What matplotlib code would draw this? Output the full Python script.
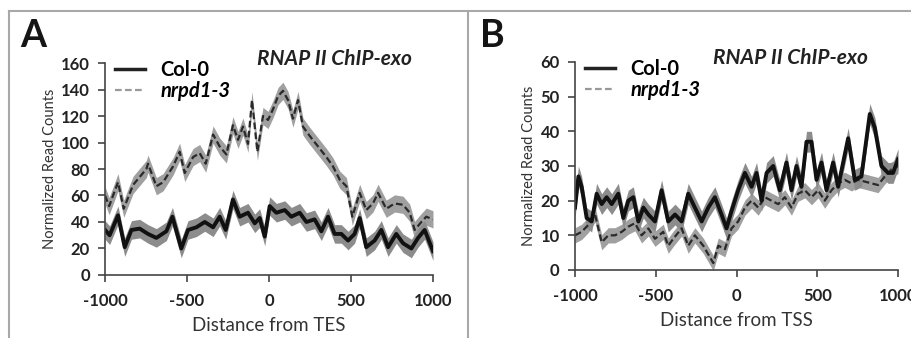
#!/usr/bin/env python3
# RNAP II ChIP-exo profiles around TES / TSS

import matplotlib
matplotlib.use('Agg')
import matplotlib.pyplot as plt
from matplotlib.lines import Line2D
import numpy as np

plt.rcParams['font.family'] = ['Lato', 'DejaVu Sans']
plt.rcParams['axes.unicode_minus'] = False

# Panel A: around TES
a_col_x = [-1000, -972, -921, -880, -839, -789, -738, -687, -626, -589, -535, -494,
           -443, -392, -341, -301, -264, -220, -179, -128, -87, -57, -26, 4, 45, 96,
           136, 187, 228, 278, 319, 360, 400, 441, 482, 522, 553, 593, 644, 685, 726,
           776, 817, 868, 909, 949, 1000]
a_col_y = [34, 30, 45, 21, 34, 35, 31, 28, 33, 44, 20, 34, 36, 40, 36, 44, 34, 57, 44,
           47, 39, 43, 29, 52, 47, 49, 44, 47, 40, 42, 33, 44, 31, 31, 26, 31, 43, 21,
           26, 34, 21, 31, 24, 20, 28, 34, 18]
a_mut_x = [-1000, -975, -921, -886, -829, -748, -738, -687, -646, -585, -545, -514,
           -463, -423, -386, -341, -301, -260, -220, -189, -159, -128, -104, -71, -37,
           -6, 24, 55, 85, 116, 146, 177, 207, 248, 299, 350, 390, 431, 472, 508, 553,
           593, 634, 665, 715, 766, 817, 858, 888, 929, 959, 1000]
a_mut_y = [60, 52, 70, 50, 68, 80, 84, 67, 70, 82, 93, 77, 89, 92, 84, 106, 97, 91, 113,
           102, 112, 99, 132, 93, 120, 117, 125, 135, 139, 132, 118, 132, 112, 105, 97,
           89, 82, 72, 67, 44, 62, 49, 54, 62, 50, 54, 53, 47, 34, 40, 44, 42]

# Panel B: around TSS
b_col_x = [-1000, -979, -959, -928, -897, -866, -835, -804, -773, -732, -701, -670,
           -639, -608, -577, -546, -505, -464, -423, -381, -340, -299, -258, -216,
           -175, -134, -93, -62, -31, 10, 52, 93, 124, 155, 186, 227, 268, 309, 340,
           371, 402, 433, 464, 495, 526, 557, 598, 629, 691, 732, 773, 825, 856, 897,
           938, 969, 1000]
b_col_y = [18, 27, 24, 15, 14, 22, 19, 21, 19, 22, 15, 20, 21, 14, 18, 16, 14, 23, 14,
           16, 14, 22, 18, 14, 18, 21, 16, 12, 17, 23, 28, 24, 28, 20, 28, 30, 23, 31,
           23, 30, 24, 37, 37, 26, 31, 23, 31, 24, 38, 26, 27, 45, 41, 30, 28, 28, 32]
b_mut_x = [-1000, -959, -918, -876, -835, -794, -753, -711, -670, -629, -588, -546,
           -505, -454, -423, -392, -340, -299, -258, -206, -144, -113, -72, -31, 10,
           52, 93, 134, 175, 216, 258, 299, 340, 381, 423, 464, 505, 546, 588, 629,
           670, 711, 752, 794, 835, 876, 918, 959, 1000]
b_mut_y = [10, 11, 13, 16, 8, 10, 10, 11, 12.5, 13.5, 10, 12, 9, 11, 7, 9, 12, 7, 10, 7,
           2, 7, 6, 12, 14, 18, 20, 18, 21, 20, 19, 21, 18, 22, 23, 21, 23, 20, 23, 25,
           26, 25, 26, 25.5, 25, 24.5, 27, 29, 30]

x_ticks = [-1000, -500, 0, 500, 1000]
a_yticks = [0, 20, 40, 60, 80, 100, 120, 140, 160]
b_yticks = [0, 10, 20, 30, 40, 50, 60]


def draw_panel(ax, col_x, col_y, mut_x, mut_y, band_col, band_mut, yticks, xlabel,
               title_x):
    col_y = np.array(col_y, dtype=float)
    mut_y = np.array(mut_y, dtype=float)
    ax.fill_between(mut_x, mut_y - band_mut, mut_y + band_mut, color='#a0a0a0', lw=0)
    ax.fill_between(col_x, col_y - band_col, col_y + band_col, color='#8c8c8c', lw=0)
    ax.plot(mut_x, mut_y, color='#2a2a2a', lw=1.6, ls=(0, (3, 1.5)))
    ax.plot(col_x, col_y, color='#111111', lw=2.8)

    ax.set_xlim(-1000, 1000)
    ax.set_ylim(0, yticks[-1])
    ax.set_xticks(x_ticks)
    ax.set_yticks(yticks)
    for side in ['top', 'right']:
        ax.spines[side].set_visible(False)
    for side in ['left', 'bottom']:
        ax.spines[side].set_color('#444444')
        ax.spines[side].set_linewidth(1.2)
    ax.tick_params(direction='out', length=5, width=1.2, color='#444444',
                   labelsize=12, labelcolor='#222222')
    ax.tick_params(axis='y', pad=6)
    ax.tick_params(axis='x', pad=8)
    for lab in ax.get_xticklabels() + ax.get_yticklabels():
        lab.set_fontweight('bold')
    ax.set_ylabel('Normalized Read Counts', fontsize=10.5, color='#333333', labelpad=3)
    ax.set_xlabel(xlabel, fontsize=13.5, color='#333333', labelpad=6)

    handles = [Line2D([], [], color='#222222', lw=2.5),
               Line2D([], [], color='#999999', lw=1.6, ls=(0, (3, 1.5)))]
    leg = ax.legend(handles, ['Col-0', 'nrpd1-3'], loc='upper left',
                    bbox_to_anchor=(-0.025, 1.1), frameon=False, handlelength=1.5,
                    handletextpad=0.75, labelspacing=0.05,
                    prop={'weight': 'bold', 'size': 14.5})
    leg.get_texts()[1].set_style('italic')
    ax.text(title_x, 1.02, 'RNAP II ChIP-exo', transform=ax.transAxes, fontsize=15,
            fontweight='bold', style='italic', color='#222222', va='center')


def plot_results():
    fig = plt.figure(figsize=(9.11, 3.38), dpi=100)
    ax_a = fig.add_axes([0.1153, 0.1864, 0.36, 0.6272])
    ax_b = fig.add_axes([0.6312, 0.2012, 0.3546, 0.6154])

    draw_panel(ax_a, a_col_x, a_col_y, a_mut_x, a_mut_y, 7.0, 6.5, a_yticks,
               'Distance from TES', 0.463)
    draw_panel(ax_b, b_col_x, b_col_y, b_mut_x, b_mut_y, 3.0, 2.2, b_yticks,
               'Distance from TSS', 0.427)

    # frame around the figure and divider between the panels
    frame = dict(color='#a8a8a8', lw=1.5, transform=fig.transFigure)
    fig.add_artist(Line2D([9 / 911, 1.0], [1 - 11 / 338, 1 - 11 / 338], **frame))
    fig.add_artist(Line2D([9 / 911, 9 / 911], [0, 1 - 11 / 338], **frame))
    fig.add_artist(Line2D([468 / 911, 468 / 911], [0, 1 - 11 / 338], **frame))

    fig.text(20 / 911, 1 - 36 / 338, 'A', fontsize=27, fontweight='bold',
             color='#151515', va='center')
    fig.text(480 / 911, 1 - 36 / 338, 'B', fontsize=27, fontweight='bold',
             color='#151515', va='center')

    fig.savefig('out.png', dpi=100)


if __name__ == '__main__':
    plot_results()
